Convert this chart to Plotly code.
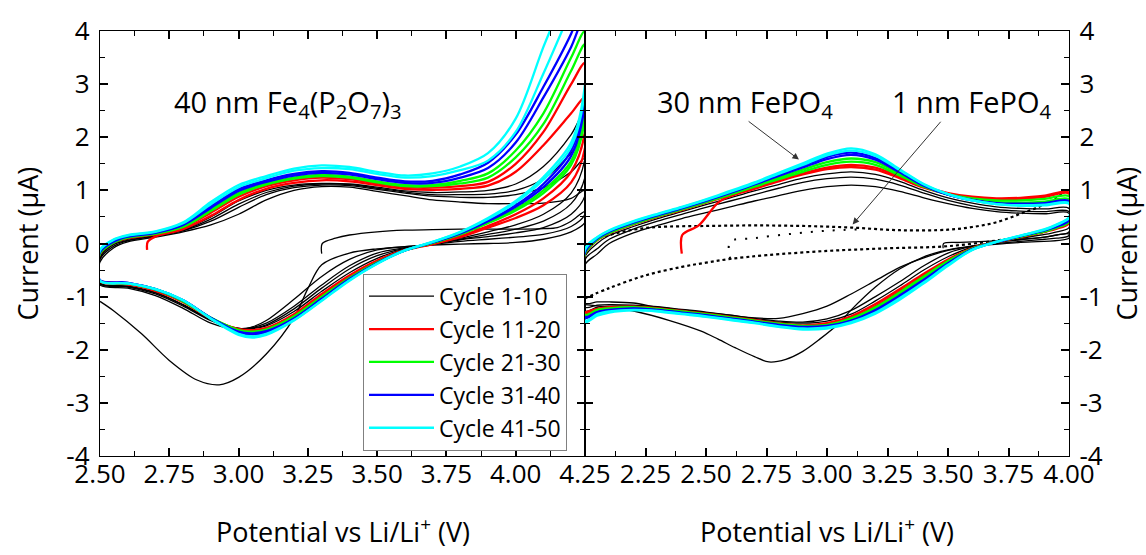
import plotly.graph_objects as go

# ---------------- axis ticks ----------------
L_XTICKS = [2.50, 2.75, 3.00, 3.25, 3.50, 3.75, 4.00, 4.25]
R_XTICKS = [2.25, 2.50, 2.75, 3.00, 3.25, 3.50, 3.75, 4.00]
Y_TICKS = [-4, -3, -2, -1, 0, 1, 2, 3, 4]

# ---------------- left panel: 40 nm Fe4(P2O7)3 ----------------
L_AN_X = [2.50, 2.55, 2.60, 2.70, 2.80, 2.90, 3.00, 3.10, 3.20, 3.30,
          3.40, 3.50, 3.60, 3.70, 3.80, 3.90, 4.00, 4.10, 4.20, 4.25]
L_CA_X = [4.25, 4.20, 4.10, 4.00, 3.90, 3.80, 3.70, 3.60, 3.50, 3.40,
          3.30, 3.20, 3.10, 3.05, 3.00, 2.90, 2.80, 2.70, 2.60, 2.50]

# cycle 1 (starts at open-circuit potential)
L_K1_AN_X = [3.30, 3.302, 3.35, 3.40, 3.50, 3.60, 3.70, 3.80, 3.90, 4.00, 4.10, 4.15, 4.20, 4.25]
L_K1_AN = [-0.19, 0.00, 0.10, 0.16, 0.22, 0.25, 0.26, 0.27, 0.27, 0.27, 0.28, 0.30, 0.42, 0.60]
L_K1_CA_X = [4.25, 4.20, 4.10, 4.00, 3.90, 3.80, 3.70, 3.60, 3.50, 3.40, 3.30, 3.25, 3.20,
             3.10, 3.00, 2.93, 2.85, 2.75, 2.65, 2.55, 2.50]
L_K1_CA = [0.40, 0.22, 0.08, 0.02, 0.00, -0.01, -0.03, -0.06, -0.10, -0.18, -0.40, -0.85, -1.40,
           -2.08, -2.52, -2.66, -2.57, -2.20, -1.70, -1.27, -1.09]

L_K2_AN = [-0.35, -0.08, 0.03, 0.12, 0.22, 0.35, 0.55, 0.82, 1.00, 1.07,
           1.06, 0.98, 0.90, 0.82, 0.78, 0.75, 0.75, 0.76, 0.85, 1.00]
L_K2_CA = [0.55, 0.32, 0.17, 0.12, 0.08, 0.04, -0.02, -0.06, -0.12, -0.30,
           -0.62, -1.05, -1.45, -1.57, -1.62, -1.50, -1.22, -0.98, -0.84, -0.78]
L_K5_AN = [-0.30, -0.05, 0.05, 0.14, 0.24, 0.42, 0.68, 0.92, 1.05, 1.10,
           1.09, 1.02, 0.95, 0.89, 0.87, 0.87, 0.92, 1.05, 1.35, 1.60]
L_K5_CA = [0.90, 0.55, 0.30, 0.20, 0.13, 0.07, -0.01, -0.08, -0.18, -0.42,
           -0.78, -1.18, -1.50, -1.58, -1.60, -1.45, -1.18, -0.95, -0.82, -0.76]
L_K7_AN = [-0.28, -0.02, 0.06, 0.14, 0.25, 0.46, 0.74, 0.96, 1.08, 1.12,
           1.11, 1.04, 0.97, 0.92, 0.92, 0.93, 1.00, 1.22, 1.70, 2.05]
L_K7_CA = [1.25, 0.75, 0.42, 0.27, 0.17, 0.08, -0.01, -0.09, -0.23, -0.48,
           -0.84, -1.23, -1.53, -1.59, -1.60, -1.44, -1.16, -0.93, -0.81, -0.75]
L_K10_AN = [-0.25, 0.00, 0.08, 0.15, 0.26, 0.50, 0.80, 1.00, 1.10, 1.13,
            1.12, 1.06, 0.99, 0.96, 0.97, 1.00, 1.12, 1.45, 2.05, 2.50]
L_K10_CA = [1.60, 0.95, 0.55, 0.35, 0.22, 0.10, 0.00, -0.10, -0.28, -0.55,
            -0.90, -1.28, -1.55, -1.60, -1.60, -1.43, -1.15, -0.92, -0.80, -0.74]

L_R11_AN_X = [2.670, 2.672, 2.70, 2.80, 2.90, 3.00, 3.10, 3.20, 3.30, 3.40,
              3.50, 3.60, 3.70, 3.80, 3.90, 4.00, 4.10, 4.20, 4.25]
L_R11_AN = [-0.12, 0.03, 0.13, 0.27, 0.52, 0.82, 1.03, 1.14, 1.19, 1.17,
            1.10, 1.03, 1.01, 1.03, 1.09, 1.35, 1.85, 2.45, 2.75]
L_R11_CA = [1.80, 1.15, 0.72, 0.48, 0.30, 0.12, -0.01, -0.12, -0.32, -0.60,
            -0.95, -1.33, -1.59, -1.63, -1.61, -1.41, -1.10, -0.89, -0.77, -0.72]
L_R20_AN = [-0.20, 0.02, 0.10, 0.17, 0.30, 0.58, 0.88, 1.08, 1.19, 1.24,
            1.21, 1.13, 1.06, 1.05, 1.08, 1.16, 1.50, 2.10, 3.00, 3.40]
L_R20_CA = [2.10, 1.35, 0.85, 0.55, 0.33, 0.14, -0.01, -0.13, -0.35, -0.63,
            -0.98, -1.35, -1.60, -1.64, -1.62, -1.41, -1.10, -0.88, -0.76, -0.71]

L_G25_AN = [-0.19, 0.02, 0.11, 0.18, 0.31, 0.61, 0.92, 1.11, 1.22, 1.27,
            1.24, 1.15, 1.08, 1.08, 1.13, 1.24, 1.62, 2.25, 3.25, 3.75]
L_G25_CA = [2.35, 1.48, 0.95, 0.62, 0.38, 0.17, 0.01, -0.13, -0.36, -0.65,
            -1.00, -1.37, -1.62, -1.66, -1.63, -1.40, -1.09, -0.87, -0.75, -0.70]
L_G30_AN = [-0.18, 0.03, 0.12, 0.19, 0.33, 0.64, 0.95, 1.13, 1.24, 1.29,
            1.26, 1.17, 1.10, 1.10, 1.18, 1.32, 1.75, 2.45, 3.50, 4.00]
L_G30_CA = [2.50, 1.55, 1.00, 0.65, 0.40, 0.18, 0.01, -0.13, -0.36, -0.66,
            -1.02, -1.39, -1.63, -1.67, -1.64, -1.40, -1.08, -0.86, -0.75, -0.70]

L_B35_AN = [-0.16, 0.04, 0.13, 0.20, 0.35, 0.67, 0.99, 1.16, 1.28, 1.33,
            1.30, 1.21, 1.14, 1.14, 1.24, 1.42, 1.90, 2.75, 3.70, 4.30]
L_B35_CA = [2.65, 1.65, 1.06, 0.69, 0.42, 0.19, 0.02, -0.13, -0.37, -0.67,
            -1.04, -1.41, -1.65, -1.69, -1.66, -1.40, -1.07, -0.86, -0.74, -0.69]
L_B40_AN = [-0.15, 0.05, 0.14, 0.21, 0.36, 0.70, 1.02, 1.19, 1.31, 1.36,
            1.33, 1.24, 1.17, 1.18, 1.30, 1.52, 2.05, 2.95, 3.95, 4.60]
L_B40_CA = [2.80, 1.75, 1.12, 0.72, 0.43, 0.20, 0.02, -0.13, -0.37, -0.68,
            -1.05, -1.42, -1.67, -1.71, -1.67, -1.40, -1.07, -0.86, -0.74, -0.69]

L_C45_AN = [-0.13, 0.07, 0.15, 0.22, 0.38, 0.74, 1.06, 1.23, 1.37, 1.42,
            1.40, 1.31, 1.24, 1.27, 1.38, 1.56, 2.10, 3.20, 4.40, 5.00]
L_C45_CA = [2.90, 1.82, 1.20, 0.77, 0.46, 0.21, 0.03, -0.13, -0.38, -0.69,
            -1.07, -1.44, -1.70, -1.75, -1.70, -1.41, -1.07, -0.86, -0.75, -0.70]
L_C50_AN = [-0.12, 0.08, 0.16, 0.23, 0.40, 0.78, 1.10, 1.27, 1.41, 1.47,
            1.44, 1.35, 1.28, 1.32, 1.45, 1.70, 2.35, 3.70, 5.00, 6.00]
L_C50_CA = [3.00, 1.90, 1.25, 0.80, 0.48, 0.22, 0.03, -0.13, -0.38, -0.70,
            -1.08, -1.45, -1.72, -1.77, -1.72, -1.42, -1.07, -0.86, -0.75, -0.70]

# ---------------- right panel: 30 nm and 1 nm FePO4 ----------------
R_AN_X = [2.00, 2.05, 2.10, 2.20, 2.30, 2.40, 2.50, 2.60, 2.70, 2.80, 2.90,
          3.00, 3.10, 3.20, 3.30, 3.40, 3.50, 3.60, 3.70, 3.80, 3.90, 4.00]
R_CA_X = [4.00, 3.95, 3.90, 3.80, 3.70, 3.60, 3.50, 3.40, 3.30, 3.20, 3.10, 3.00,
          2.90, 2.80, 2.70, 2.60, 2.50, 2.40, 2.30, 2.20, 2.10, 2.05, 2.00]

R_K1_AN_X = [3.48, 3.482, 3.55, 3.70, 3.80, 3.90, 4.00]
R_K1_AN = [-0.09, 0.00, 0.02, 0.05, 0.08, 0.12, 0.18]
R_K1_CA_X = [4.00, 3.80, 3.60, 3.50, 3.40, 3.30, 3.20, 3.10, 3.05, 2.97, 2.90,
             2.83, 2.76, 2.70, 2.62, 2.55, 2.48, 2.35, 2.21, 2.10, 2.00]
R_K1_CA = [0.10, 0.02, -0.05, -0.12, -0.25, -0.48, -0.82, -1.25, -1.50, -1.80, -2.03,
           -2.18, -2.23, -2.13, -1.96, -1.80, -1.65, -1.45, -1.28, -1.20, -1.15]

R_K2_AN = [-0.40, -0.20, 0.00, 0.20, 0.34, 0.47, 0.58, 0.69, 0.80, 0.90, 1.00,
           1.07, 1.10, 1.07, 0.98, 0.86, 0.75, 0.66, 0.60, 0.57, 0.56, 0.57]
R_K2_CA = [0.15, 0.10, 0.08, 0.04, 0.00, -0.05, -0.13, -0.27, -0.45, -0.70, -0.95, -1.18,
           -1.32, -1.41, -1.40, -1.35, -1.30, -1.25, -1.20, -1.12, -1.10, -1.10, -1.12]
R_K5_AN = [-0.30, -0.10, 0.08, 0.27, 0.42, 0.55, 0.68, 0.80, 0.92, 1.04, 1.15,
           1.22, 1.25, 1.21, 1.10, 0.95, 0.81, 0.71, 0.64, 0.61, 0.60, 0.60]
R_K5_CA = [0.22, 0.16, 0.12, 0.07, 0.02, -0.05, -0.18, -0.42, -0.72, -1.00, -1.26, -1.42,
           -1.48, -1.46, -1.41, -1.35, -1.29, -1.24, -1.19, -1.16, -1.15, -1.16, -1.20]
R_K10_AN = [-0.25, 0.00, 0.15, 0.32, 0.47, 0.60, 0.73, 0.86, 0.99, 1.11, 1.23,
            1.31, 1.35, 1.30, 1.17, 1.00, 0.86, 0.76, 0.69, 0.66, 0.65, 0.66]
R_K10_CA = [0.30, 0.22, 0.17, 0.10, 0.03, -0.07, -0.25, -0.50, -0.80, -1.08, -1.33, -1.46,
            -1.50, -1.48, -1.43, -1.37, -1.31, -1.26, -1.21, -1.18, -1.18, -1.20, -1.27]

R_R11_AN_X = [2.40, 2.402, 2.47, 2.55, 2.60, 2.70, 2.80, 2.90, 3.00, 3.10,
              3.20, 3.30, 3.40, 3.50, 3.60, 3.70, 3.80, 3.90, 4.00]
R_R11_AN = [-0.19, 0.16, 0.34, 0.77, 0.89, 1.03, 1.17, 1.30, 1.40, 1.44,
            1.39, 1.23, 1.05, 0.93, 0.86, 0.83, 0.84, 0.88, 0.94]
R_R11_CA = [0.38, 0.28, 0.22, 0.12, 0.03, -0.09, -0.30, -0.57, -0.86, -1.14, -1.37, -1.50,
            -1.54, -1.50, -1.44, -1.38, -1.32, -1.27, -1.22, -1.19, -1.20, -1.23, -1.30]
R_R20_AN = [-0.20, 0.06, 0.19, 0.36, 0.50, 0.63, 0.77, 0.91, 1.05, 1.19, 1.32,
            1.43, 1.48, 1.43, 1.26, 1.07, 0.95, 0.88, 0.85, 0.86, 0.90, 0.96]
R_R20_CA = [0.40, 0.30, 0.23, 0.13, 0.03, -0.09, -0.32, -0.60, -0.90, -1.18, -1.40, -1.52,
            -1.55, -1.51, -1.45, -1.39, -1.33, -1.28, -1.23, -1.20, -1.21, -1.24, -1.32]

R_G25_AN = [-0.19, 0.07, 0.20, 0.37, 0.51, 0.64, 0.78, 0.92, 1.07, 1.21, 1.35,
            1.48, 1.54, 1.48, 1.28, 1.07, 0.93, 0.85, 0.81, 0.81, 0.84, 0.89]
R_G25_CA = [0.41, 0.30, 0.23, 0.13, 0.03, -0.10, -0.33, -0.62, -0.92, -1.20, -1.41, -1.53,
            -1.55, -1.51, -1.45, -1.39, -1.33, -1.28, -1.23, -1.20, -1.22, -1.25, -1.34]
R_G30_AN = [-0.18, 0.08, 0.21, 0.38, 0.52, 0.65, 0.79, 0.94, 1.09, 1.24, 1.39,
            1.53, 1.60, 1.53, 1.31, 1.08, 0.92, 0.83, 0.78, 0.77, 0.79, 0.83]
R_G30_CA = [0.42, 0.31, 0.24, 0.13, 0.03, -0.10, -0.35, -0.65, -0.95, -1.23, -1.43, -1.54,
            -1.56, -1.52, -1.46, -1.40, -1.34, -1.29, -1.24, -1.21, -1.23, -1.27, -1.36]

R_B35_AN = [-0.16, 0.09, 0.22, 0.39, 0.53, 0.66, 0.80, 0.95, 1.11, 1.27, 1.43,
            1.59, 1.67, 1.58, 1.34, 1.09, 0.92, 0.82, 0.76, 0.75, 0.76, 0.80]
R_B35_CA = [0.44, 0.32, 0.25, 0.14, 0.03, -0.11, -0.37, -0.68, -0.98, -1.25, -1.45, -1.55,
            -1.57, -1.53, -1.47, -1.41, -1.35, -1.30, -1.25, -1.22, -1.25, -1.29, -1.38]
R_B40_AN = [-0.15, 0.10, 0.23, 0.40, 0.54, 0.67, 0.81, 0.96, 1.12, 1.29, 1.46,
            1.63, 1.71, 1.61, 1.36, 1.10, 0.92, 0.81, 0.75, 0.73, 0.74, 0.77]
R_B40_CA = [0.45, 0.33, 0.25, 0.14, 0.03, -0.11, -0.38, -0.70, -1.00, -1.27, -1.46, -1.56,
            -1.58, -1.54, -1.48, -1.42, -1.36, -1.31, -1.26, -1.23, -1.26, -1.30, -1.40]

R_C45_AN = [-0.12, 0.11, 0.24, 0.41, 0.55, 0.68, 0.82, 0.97, 1.13, 1.31, 1.48,
            1.66, 1.75, 1.65, 1.38, 1.11, 0.93, 0.81, 0.74, 0.72, 0.73, 0.76]
R_C45_CA = [0.48, 0.35, 0.26, 0.15, 0.03, -0.12, -0.40, -0.73, -1.03, -1.30, -1.48, -1.58,
            -1.60, -1.56, -1.49, -1.43, -1.37, -1.32, -1.27, -1.25, -1.28, -1.33, -1.45]
R_C50_AN = [-0.10, 0.12, 0.25, 0.42, 0.56, 0.69, 0.83, 0.99, 1.15, 1.33, 1.51,
            1.69, 1.79, 1.68, 1.40, 1.12, 0.93, 0.81, 0.74, 0.71, 0.72, 0.75]
R_C50_CA = [0.50, 0.36, 0.27, 0.15, 0.03, -0.12, -0.42, -0.75, -1.06, -1.32, -1.50, -1.60,
            -1.62, -1.57, -1.50, -1.44, -1.38, -1.33, -1.28, -1.26, -1.30, -1.36, -1.48]

# 1 nm FePO4 (dotted)
R_NM_UP_X = [2.00, 2.05, 2.10, 2.20, 2.30, 2.50, 2.70, 2.90, 3.10, 3.30, 3.50, 3.60, 3.70, 3.80, 3.90, 4.00]
R_NM_UP = [-0.10, 0.08, 0.16, 0.26, 0.31, 0.33, 0.34, 0.33, 0.30, 0.25, 0.26, 0.31, 0.40, 0.56, 0.74, 1.02]
R_NM_DN_X = [4.00, 3.90, 3.75, 3.50, 3.25, 3.00, 2.75, 2.60, 2.50, 2.40, 2.25, 2.10, 2.00]
R_NM_DN = [0.45, 0.22, 0.09, -0.05, -0.09, -0.14, -0.22, -0.29, -0.36, -0.44, -0.60, -0.84, -1.03]
R_NM_JUMP_X = [2.60, 2.60, 2.70, 2.85, 3.00, 3.15]
R_NM_JUMP = [-0.29, 0.03, 0.10, 0.18, 0.24, 0.27]

LEGEND_NAMES = ["Cycle 1-10", "Cycle 11-20", "Cycle 21-30", "Cycle 31-40", "Cycle 41-50"]
GROUP_COLORS = ["#000000", "#FF0000", "#00FF00", "#0000FF", "#00FFFF"]

FONT = "Open Sans"

# ---------------- build figure ----------------
fig = go.Figure()


def add_loop(xa, ya, xc, yc, grp, panel, legend=False, close=True):
    xs = list(xa) + list(xc)
    ys = list(ya) + list(yc)
    if close:
        xs.append(xa[0])
        ys.append(ya[0])
    color = GROUP_COLORS[grp]
    width = 1.3 if grp == 0 else 2.3
    fig.add_trace(go.Scatter(
        x=xs, y=ys, mode="lines",
        line=dict(color=color, width=width, shape="spline", smoothing=0.9),
        name=LEGEND_NAMES[grp], legendgroup=LEGEND_NAMES[grp],
        showlegend=legend, hoverinfo="skip",
        xaxis="x" if panel == 0 else "x2", yaxis="y" if panel == 0 else "y2"))


# left panel
add_loop(L_K1_AN_X, L_K1_AN, L_K1_CA_X, L_K1_CA, 0, 0, close=False)
add_loop(L_AN_X, L_K2_AN, L_CA_X, L_K2_CA, 0, 0)
add_loop(L_AN_X, L_K5_AN, L_CA_X, L_K5_CA, 0, 0)
add_loop(L_AN_X, L_K7_AN, L_CA_X, L_K7_CA, 0, 0)
add_loop(L_AN_X, L_K10_AN, L_CA_X, L_K10_CA, 0, 0, legend=True)
add_loop(L_R11_AN_X, L_R11_AN, L_CA_X, L_R11_CA, 1, 0, close=False)
add_loop(L_AN_X, L_R20_AN, L_CA_X, L_R20_CA, 1, 0, legend=True)
add_loop(L_AN_X, L_G25_AN, L_CA_X, L_G25_CA, 2, 0)
add_loop(L_AN_X, L_G30_AN, L_CA_X, L_G30_CA, 2, 0, legend=True)
add_loop(L_AN_X, L_B35_AN, L_CA_X, L_B35_CA, 3, 0)
add_loop(L_AN_X, L_B40_AN, L_CA_X, L_B40_CA, 3, 0, legend=True)
add_loop(L_AN_X, L_C45_AN, L_CA_X, L_C45_CA, 4, 0)
add_loop(L_AN_X, L_C50_AN, L_CA_X, L_C50_CA, 4, 0, legend=True)

# right panel: 1 nm FePO4 dotted
for xs_, ys_, dash, w in [(R_NM_UP_X, R_NM_UP, "3px,3px", 2.2), (R_NM_DN_X, R_NM_DN, "3px,3px", 2.2),
                          (R_NM_JUMP_X, R_NM_JUMP, "2px,9px", 2)]:
    fig.add_trace(go.Scatter(x=xs_, y=ys_, mode="lines", xaxis="x2", yaxis="y2",
                             line=dict(color="#000000", width=w, dash=dash, shape="spline"),
                             showlegend=False, hoverinfo="skip"))

add_loop(R_K1_AN_X, R_K1_AN, R_K1_CA_X, R_K1_CA, 0, 1, close=False)
add_loop(R_AN_X, R_K2_AN, R_CA_X, R_K2_CA, 0, 1)
add_loop(R_AN_X, R_K5_AN, R_CA_X, R_K5_CA, 0, 1)
add_loop(R_AN_X, R_K10_AN, R_CA_X, R_K10_CA, 0, 1)
add_loop(R_R11_AN_X, R_R11_AN, R_CA_X, R_R11_CA, 1, 1, close=False)
add_loop(R_AN_X, R_R20_AN, R_CA_X, R_R20_CA, 1, 1)
add_loop(R_AN_X, R_G25_AN, R_CA_X, R_G25_CA, 2, 1)
add_loop(R_AN_X, R_G30_AN, R_CA_X, R_G30_CA, 2, 1)
add_loop(R_AN_X, R_B35_AN, R_CA_X, R_B35_CA, 3, 1)
add_loop(R_AN_X, R_B40_AN, R_CA_X, R_B40_CA, 3, 1)
add_loop(R_AN_X, R_C45_AN, R_CA_X, R_C45_CA, 4, 1)
add_loop(R_AN_X, R_C50_AN, R_CA_X, R_C50_CA, 4, 1)

tickfont = dict(family=FONT, size=26, color="#000000")
axis_common = dict(showline=True, linecolor="#000000", linewidth=1.4, mirror="ticks",
                   ticks="inside", ticklen=8, tickwidth=1.5, tickcolor="#000000",
                   showgrid=False, zeroline=False, tickfont=tickfont)

SPLIT = 485 / 969

fig.update_layout(
    width=1146, height=555,
    margin=dict(l=100, r=77, t=27, b=99),
    paper_bgcolor="#FFFFFF", plot_bgcolor="#FFFFFF",
    font=dict(family=FONT, color="#000000"),
    xaxis=dict(domain=[0, SPLIT], range=[2.5, 4.25], anchor="y",
               tickvals=L_XTICKS, ticktext=["%.2f" % v for v in L_XTICKS],
               minor=dict(ticks="inside", ticklen=5, tickwidth=1.2, dtick=0.125, tick0=2.5,
                          tickcolor="#000000"),
               ticklabelstandoff=-5, **axis_common),
    xaxis2=dict(domain=[SPLIT, 1], range=[2.0, 4.0], anchor="y2",
                tickvals=R_XTICKS, ticktext=["%.2f" % v for v in R_XTICKS],
                minor=dict(ticks="inside", ticklen=5, tickwidth=1.2, dtick=0.125, tick0=2.0,
                           tickcolor="#000000"),
                ticklabelstandoff=-5, **axis_common),
    yaxis=dict(range=[-4, 4], anchor="x", tickvals=Y_TICKS, ticktext=[str(v) for v in Y_TICKS],
               minor=dict(ticks="inside", ticklen=5, tickwidth=1.2, dtick=0.5, tick0=0,
                          tickcolor="#000000"),
               ticklabelstandoff=4, **axis_common),
    yaxis2=dict(range=[-4, 4], anchor="x2", side="right", tickvals=Y_TICKS,
                ticktext=[str(v) for v in Y_TICKS],
                minor=dict(ticks="inside", ticklen=5, tickwidth=1.2, dtick=0.5, tick0=0,
                           tickcolor="#000000"),
                ticklabelstandoff=4, **axis_common),
    legend=dict(x=(363 - 100) / 969, y=(456 - 272) / 429, xanchor="left", yanchor="top",
                bgcolor="#FFFFFF", bordercolor="#808080", borderwidth=1,
                font=dict(family=FONT, size=23, color="#000000"),
                tracegroupgap=7, itemwidth=65, traceorder="normal"),
    showlegend=True,
)

ann_font = dict(family=FONT, size=29, color="#000000")
fig.add_annotation(x=3.18, y=2.63, xref="x", yref="y", showarrow=False, font=ann_font,
                   text="40 nm Fe<sub>4</sub>(P<sub>2</sub>O<sub>7</sub>)<sub>3</sub>")
fig.add_annotation(x=2.66, y=2.64, xref="x2", yref="y2", showarrow=False, font=ann_font,
                   text="30 nm FePO<sub>4</sub>")
fig.add_annotation(x=3.60, y=2.64, xref="x2", yref="y2", showarrow=False, font=ann_font,
                   text="1 nm FePO<sub>4</sub>")
# arrows
fig.add_annotation(x=2.884, y=1.58, ax=2.67, ay=2.32, xref="x2", yref="y2", axref="x2", ayref="y2",
                   text="", showarrow=True, arrowhead=2, arrowsize=1.3, arrowwidth=1,
                   arrowcolor="#333333")
fig.add_annotation(x=3.106, y=0.36, ax=3.475, ay=2.32, xref="x2", yref="y2", axref="x2", ayref="y2",
                   text="", showarrow=True, arrowhead=2, arrowsize=1.3, arrowwidth=1,
                   arrowcolor="#333333")

# axis titles
title_font = dict(family=FONT, size=27, color="#000000")
fig.add_annotation(x=(27 - 100) / 969, y=0.5, xref="paper", yref="paper", textangle=-90,
                   xanchor="center", yanchor="middle",
                   showarrow=False, font=title_font, text="Current (μA)")
fig.add_annotation(x=(1126 - 100) / 969, y=0.5, xref="paper", yref="paper", textangle=-90,
                   xanchor="center", yanchor="middle",
                   showarrow=False, font=title_font, text="Current (μA)")
fig.add_annotation(x=0.5, y=(456 - 531) / 429, xref="x domain", yref="paper", showarrow=False,
                   xanchor="center", yanchor="middle",
                   font=title_font, text="Potential vs Li/Li<sup>+</sup> (V)")
fig.add_annotation(x=0.5, y=(456 - 531) / 429, xref="x2 domain", yref="paper", showarrow=False,
                   xanchor="center", yanchor="middle",
                   font=title_font, text="Potential vs Li/Li<sup>+</sup> (V)")

fig.write_html("out.html")
